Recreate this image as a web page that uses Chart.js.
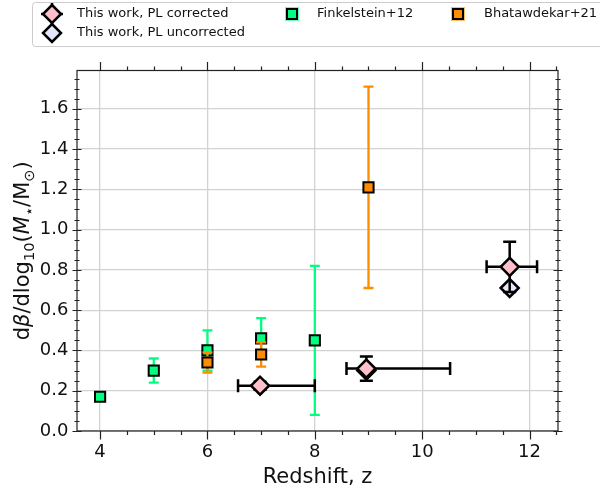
<!DOCTYPE html>
<html>
<head>
<meta charset="utf-8">
<title>UV slope gradient vs redshift</title>
<script src="https://cdn.jsdelivr.net/npm/chart.js@4.4.1/dist/chart.umd.min.js"></script>
<style>
  body { margin: 0; background: #fff; }
  #wrap { width: 600px; height: 491px; }
</style>
</head>
<body>
<div id="wrap"><canvas id="beta-chart" width="600" height="491"></canvas></div>
<script>
// Finkelstein+12
const finkZ = [4, 5, 6, 7, 8];
const finkSlope = [0.17, 0.30, 0.40, 0.46, 0.45];
const finkErr = [0.01, 0.06, 0.10, 0.10, 0.37];

// Bhatawdekar+21
const bhatZ = [6, 7, 9];
const bhatSlope = [0.34, 0.38, 1.21];
const bhatErr = [0.05, 0.06, 0.50];

// this work, PL corrected (asymmetric redshift bins)
const corrZ = [6.98, 8.96, 11.63];
const corrSlope = [0.225, 0.31, 0.815];
const corrErr = [0.02, 0.06, 0.125];
const corrZLo = [0.41, 0.37, 0.43];
const corrZHi = [1.02, 1.56, 0.51];

// this work, PL uncorrected
const uncorrZ = [8.96, 11.63];
const uncorrSlope = [0.30, 0.71];

const xTicks = [4, 6, 8, 10, 12];
const yTicks = [0, 0.2, 0.4, 0.6, 0.8, 1.0, 1.2, 1.4, 1.6];

const FONT = '"DejaVu Sans", Verdana, sans-serif';

const toPoints = (xs, ys) => xs.map((v, i) => ({ x: v, y: ys[i] }));

// draws each dataset's error bars just before its markers
const errorBars = {
    id: 'errorBars',
    beforeDatasetDraw(chart, args) {
        const ds = chart.data.datasets[args.index];
        if (!ds.errY && !ds.errXLo) return;
        const xs = chart.scales.x, ys = chart.scales.y;
        const c = chart.ctx;
        const cap = ds.capSize;
        c.save();
        c.strokeStyle = ds.errColor;
        c.lineWidth = ds.errWidth;
        c.lineCap = 'butt';
        ds.data.forEach((p, i) => {
            const px = xs.getPixelForValue(p.x);
            const py = ys.getPixelForValue(p.y);
            c.beginPath();
            if (ds.errY) {
                const top = ys.getPixelForValue(p.y + ds.errY[i]);
                const bot = ys.getPixelForValue(p.y - ds.errY[i]);
                c.moveTo(px, top); c.lineTo(px, bot);
                c.moveTo(px - cap, top); c.lineTo(px + cap, top);
                c.moveTo(px - cap, bot); c.lineTo(px + cap, bot);
            }
            if (ds.errXLo) {
                const l = xs.getPixelForValue(p.x - ds.errXLo[i]);
                const r = xs.getPixelForValue(p.x + ds.errXHi[i]);
                c.moveTo(l, py); c.lineTo(r, py);
                c.moveTo(l, py - cap); c.lineTo(l, py + cap);
                c.moveTo(r, py - cap); c.lineTo(r, py + cap);
            }
            c.stroke();
        });
        c.restore();
    }
};

function diamond(c, x, y, r, fill) {
    c.beginPath();
    c.moveTo(x, y - r); c.lineTo(x + r, y); c.lineTo(x, y + r); c.lineTo(x - r, y);
    c.closePath();
    c.fillStyle = fill;
    c.fill();
    c.lineWidth = 2.5;
    c.strokeStyle = '#000';
    c.lineJoin = 'miter';
    c.stroke();
}

function square(c, x, y, h, fill, halo) {
    c.fillStyle = halo;
    c.fillRect(x - h - 2, y - h - 2, 2 * h + 4, 2 * h + 4);
    c.fillStyle = fill;
    c.fillRect(x - h, y - h, 2 * h, 2 * h);
    c.lineWidth = 2;
    c.strokeStyle = '#000';
    c.strokeRect(x - h, y - h, 2 * h, 2 * h);
}

// axes box, in-out ticks, y label with math, legend
const decorations = {
    id: 'decorations',
    afterDraw(chart) {
        const c = chart.ctx;
        const a = chart.chartArea;
        const xs = chart.scales.x, ys = chart.scales.y;
        c.save();

        c.strokeStyle = '#222';
        c.lineWidth = 1.2;
        c.strokeRect(a.left, a.top, a.right - a.left, a.bottom - a.top);

        c.beginPath();
        for (let v = 4; v <= 12.5; v += 0.5) {
            const px = Math.round(xs.getPixelForValue(v)) + 0.5;
            const len = v % 2 === 0 ? 8.5 : 4;
            c.moveTo(px, a.bottom); c.lineTo(px, a.bottom + len);
            c.moveTo(px, a.top); c.lineTo(px, a.top - len);
        }
        for (let k = 0; k <= 35; k++) {
            const py = Math.round(ys.getPixelForValue(k * 0.05)) + 0.5;
            const len = k % 4 === 0 ? 4.5 : 2.5;
            c.moveTo(a.left - len, py); c.lineTo(a.left + len, py);
            c.moveTo(a.right - len, py); c.lineTo(a.right + len, py);
        }
        c.lineWidth = 1.2;
        c.strokeStyle = '#222';
        c.stroke();

        // y axis title: dβ/dlog10(M*/M⊙)
        const parts = [
            ['d', 1, '', 0], ['β', 1, 'italic ', 0], ['/dlog', 1, '', 0], ['10', 0.7, '', 1],
            ['(', 1, '', 0], ['M', 1, 'italic ', 0], ['⋆', 0.7, '', 1], ['/M', 1, '', 0],
            ['⊙', 0.7, '', 1], [')', 1, '', 0]
        ];
        const base = 21;
        let total = 0;
        parts.forEach(p => {
            c.font = p[2] + (base * p[1]) + 'px ' + FONT;
            p.push(c.measureText(p[0]).width);
            total += p[4];
        });
        c.translate(21, (a.top + a.bottom) / 2);
        c.rotate(-Math.PI / 2);
        c.fillStyle = '#111';
        c.textBaseline = 'alphabetic';
        let cx = -total / 2;
        parts.forEach(p => {
            c.font = p[2] + (base * p[1]) + 'px ' + FONT;
            c.fillText(p[0], cx, 7.5 + p[3] * 5);
            cx += p[4];
        });
        c.setTransform(1, 0, 0, 1, 0, 0);

        // legend
        c.fillStyle = 'rgba(255,255,255,0.85)';
        c.strokeStyle = '#cccccc';
        c.lineWidth = 1;
        c.beginPath();
        c.roundRect(32.5, 2.5, 580, 44, 3);
        c.fill();
        c.stroke();

        c.strokeStyle = '#000';
        c.lineWidth = 2.5;
        c.beginPath();
        c.moveTo(52, 3); c.lineTo(52, 25);
        c.moveTo(41, 14); c.lineTo(63, 14);
        c.stroke();
        diamond(c, 52, 14, 9, '#ffc0cb');
        diamond(c, 52, 33, 9, '#e6e6fa');
        square(c, 292, 14, 5, '#00ff7f', 'rgba(0,255,127,0.6)');
        square(c, 458, 14, 5, '#ff8c00', 'rgba(255,140,0,0.6)');

        c.fillStyle = '#111';
        c.font = '13px ' + FONT;
        c.textBaseline = 'middle';
        c.fillText('This work, PL corrected', 77, 14);
        c.fillText('This work, PL uncorrected', 77, 33);
        c.fillText('Finkelstein+12', 317, 14);
        c.fillText('Bhatawdekar+21', 484, 14);
        c.restore();
    }
};

const ctx = document.getElementById('beta-chart').getContext('2d');
const betaChart = new Chart(ctx, {
    type: 'scatter',
    data: {
        datasets: [{
            label: 'This work, PL corrected',
            data: toPoints(corrZ, corrSlope),
            errY: corrErr, errXLo: corrZLo, errXHi: corrZHi,
            errColor: '#000', errWidth: 2.5, capSize: 6.5,
            pointStyle: 'rectRot', pointRadius: 9,
            backgroundColor: '#ffc0cb', borderColor: '#000', borderWidth: 2.5
        }, {
            label: 'This work, PL uncorrected',
            data: toPoints(uncorrZ, uncorrSlope),
            pointStyle: 'rectRot', pointRadius: 9,
            backgroundColor: '#e6e6fa', borderColor: '#000', borderWidth: 2.5
        }, {
            label: 'Bhatawdekar+21',
            data: toPoints(bhatZ, bhatSlope),
            errY: bhatErr, errColor: '#ff8c00', errWidth: 2.3, capSize: 5,
            pointStyle: 'rect', pointRadius: 7.2,
            backgroundColor: '#ff8c00', borderColor: '#000', borderWidth: 2
        }, {
            label: 'Finkelstein+12',
            data: toPoints(finkZ, finkSlope),
            errY: finkErr, errColor: '#00ff7f', errWidth: 2.3, capSize: 5,
            pointStyle: 'rect', pointRadius: 7.2,
            backgroundColor: '#00ff7f', borderColor: '#000', borderWidth: 2
        }]
    },
    options: {
        responsive: false,
        animation: false,
        events: [],
        layout: { padding: { top: 70.5, right: 42, left: 0, bottom: 0 } },
        plugins: { legend: { display: false }, tooltip: { enabled: false } },
        scales: {
            x: {
                type: 'linear',
                min: 3.57,
                max: 12.53,
                afterFit: (scale) => { scale.height = 60; },
                afterBuildTicks: (scale) => { scale.ticks = xTicks.map(v => ({ value: v })); },
                grid: { color: '#d2d2d2', lineWidth: 1.3, drawTicks: false },
                border: { display: false },
                ticks: {
                    padding: 10.5,
                    color: '#111',
                    font: { family: FONT, size: 18 },
                    callback: (v) => String(v)
                },
                title: {
                    display: true,
                    text: 'Redshift, z',
                    color: '#111',
                    font: { family: FONT, size: 21 },
                    padding: { top: 0, bottom: 0.4 }
                }
            },
            y: {
                type: 'linear',
                min: 0,
                max: 1.79,
                afterFit: (scale) => { scale.width = 77; },
                afterBuildTicks: (scale) => { scale.ticks = yTicks.map(v => ({ value: v })); },
                grid: { color: '#d2d2d2', lineWidth: 1.3, drawTicks: false },
                border: { display: false },
                ticks: {
                    padding: 8.5,
                    color: '#111',
                    font: { family: FONT, size: 18 },
                    callback: (v) => v.toFixed(1)
                }
            }
        }
    },
    plugins: [errorBars, decorations]
});
</script>
</body>
</html>
